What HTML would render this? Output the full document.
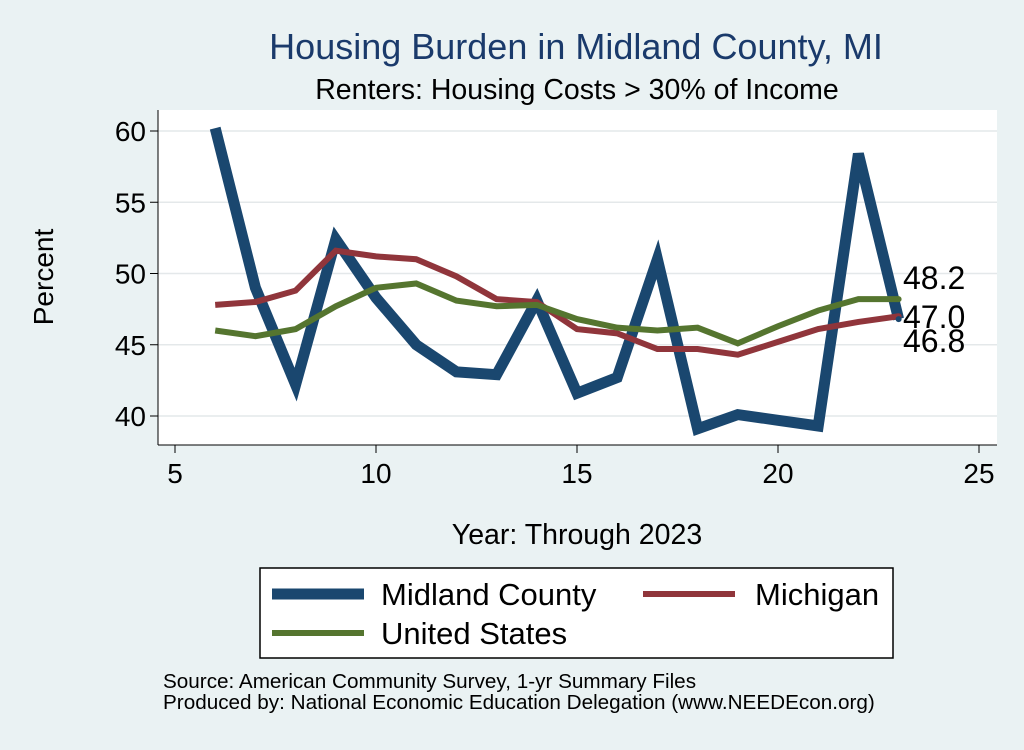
<!DOCTYPE html>
<html><head><meta charset="utf-8"><style>
body{margin:0;background:#eaf2f3;font-family:"Liberation Sans",sans-serif}
svg text{font-family:"Liberation Sans",sans-serif}
</style></head><body>
<svg id="chart" width="1024" height="745" viewBox="0 0 1024 745">
<rect x="0" y="0" width="1024" height="745" fill="#eaf2f3"/>
<rect x="158" y="110" width="839" height="335" fill="#ffffff"/>
<text x="576" y="59" text-anchor="middle" font-size="36" fill="#1a3a6b">Housing Burden in Midland County, MI</text>
<text x="577" y="99" text-anchor="middle" font-size="28.5" fill="#000">Renters: Housing Costs &gt; 30% of Income</text>
<g id="grid"></g><g id="axes"></g><g id="series"></g>
<text x="53" y="277" text-anchor="middle" font-size="28" transform="rotate(-90 53 277)">Percent</text>
<text x="577" y="544" text-anchor="middle" font-size="28.5">Year: Through 2023</text>
<g>
<rect x="260" y="568" width="633" height="90" fill="#fff" stroke="#000" stroke-width="1.5"/>
<g><line x1="272" y1="594" x2="364" y2="594" stroke="#1a476f" stroke-width="11"/><text x="381" y="605" font-size="31">Midland County</text></g>
<g><line x1="643" y1="594" x2="735" y2="594" stroke="#90353b" stroke-width="6"/><text x="755" y="605" font-size="31">Michigan</text></g>
<g><line x1="272" y1="633" x2="364" y2="633" stroke="#55752f" stroke-width="6"/><text x="381" y="644" font-size="31">United States</text></g>
</g>
<text x="163" y="688" font-size="20.7">Source: American Community Survey, 1-yr Summary Files</text>
<text x="163" y="709" font-size="20.7">Produced by: National Economic Education Delegation (www.NEEDEcon.org)</text>
</svg>
<script>
const years=[6,7,8,9,10,11,12,13,14,15,16,17,18,19,20,21,22,23];
const midland=[60.2,49,42.2,52.4,48.3,45,43.1,42.9,48.1,41.6,42.7,51,39.1,40.1,39.7,39.3,58.4,46.8];
const michigan=[47.8,48,48.8,51.6,51.2,51,49.8,48.2,48,46.1,45.8,44.7,44.7,44.3,45.2,46.1,46.6,47.0];
const us=[46,45.6,46.1,47.7,49,49.3,48.1,47.7,47.8,46.8,46.2,46,46.2,45.1,46.3,47.4,48.2,48.2];
const xTicks=[5,10,15,20,25];
const yTicks=[40,45,50,55,60];
const X=v=>175+(v-5)*40.2, Y=v=>416-(v-40)*14.25;
const NS="http://www.w3.org/2000/svg";
function mk(t,a,p){const e=document.createElementNS(NS,t);for(const k in a)e.setAttribute(k,a[k]);p.appendChild(e);return e;}
const grid=document.getElementById('grid'),axes=document.getElementById('axes'),ser=document.getElementById('series');
yTicks.forEach(t=>{
 const g=mk('line',{x1:158,x2:997,y1:Y(t),y2:Y(t),stroke:'#e4e8ea','stroke-width':1.5},grid);
 
 
 const tk=mk('line',{x1:150,x2:158,y1:Y(t),y2:Y(t),stroke:'#000'},axes);
 
 
 const l=mk('text',{x:146,y:Y(t)+10,'text-anchor':'end','font-size':28},axes);l.textContent=t;
 
 
});
mk('line',{x1:158,x2:158,y1:110,y2:445,stroke:'#000'},axes);
mk('line',{x1:158,x2:997,y1:445,y2:445,stroke:'#000'},axes);
xTicks.forEach(t=>{
 const tk=mk('line',{x1:X(t),x2:X(t),y1:445,y2:453,stroke:'#000'},axes);
 
 
 const l=mk('text',{x:X(t),y:483,'text-anchor':'middle','font-size':28},axes);l.textContent=t;
 
 
});
function line(vals,color,w,name){
 const p=mk('polyline',{points:years.map((y,i)=>X(y)+','+Y(vals[i])).join(' '),fill:'none',stroke:color,'stroke-width':w,'stroke-linejoin':'miter','stroke-miterlimit':4},ser);
 
 
}
line(midland,'#1a476f',11,'line-midland');
line(michigan,'#90353b',6,'line-michigan');
line(us,'#55752f',6,'line-us');
const last=years.length-1;
[[us,'#55752f'],[michigan,'#90353b'],[midland,'#1a476f']].forEach(([v,c])=>{
 mk('circle',{cx:X(years[last]),cy:Y(v[last]),r:3,fill:c},ser);
});
const labs=[[us[last],289],[michigan[last],328],[midland[last],352]];
labs.forEach(([v,yy])=>{
 const t=mk('text',{x:903,y:yy,'font-size':32},ser);t.textContent=v.toFixed(1);
 
 
});
</script>
</body></html>
